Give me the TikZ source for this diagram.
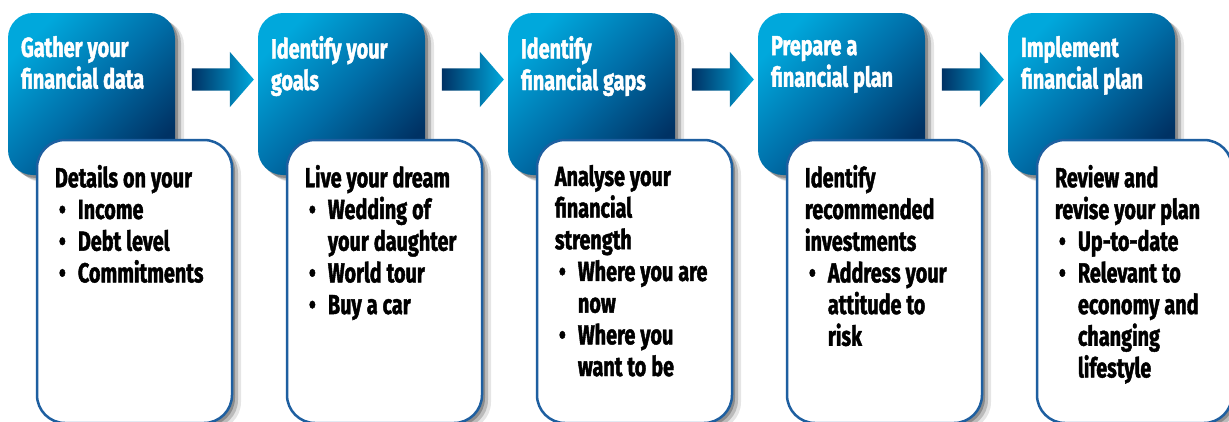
\documentclass[tikz,border=0pt]{standalone}
\usepackage{fontspec}
\setmainfont{Fira Sans}[FakeStretch=0.72, BoldFeatures={FakeBold=1.5}]
\usetikzlibrary{shapes.arrows, shadows}

\definecolor{bluelight}{RGB}{0,168,220}
\definecolor{bluemid}{RGB}{0,110,168}
\definecolor{bluedark}{RGB}{0,50,100}
\definecolor{boxborder}{RGB}{30,95,160}

\newcommand{\itemdot}{\makebox[23pt][l]{\hspace{4pt}\textbullet}}
\newcommand{\itemcont}{\hspace*{23pt}}
\newcommand{\boxfont}{\fontsize{27.5}{31.7}\selectfont\bfseries}

\begin{document}
\begin{tikzpicture}
	[%
	x=1pt, y=-1pt,
	softshadow/.style={drop shadow={shadow xshift=3pt, shadow yshift=-3pt, opacity=.25, fill=black},
		drop shadow={shadow xshift=6pt, shadow yshift=-5pt, opacity=.18, fill=black},
		drop shadow={shadow xshift=9pt, shadow yshift=-7pt, opacity=.10, fill=black}},%
	phase/.style     ={rectangle,	rounded corners=25pt,	minimum width=167pt,	minimum height=162pt,	inner sep=0pt,
		top color=bluelight,	bottom color=bluedark,	middle color=bluemid,	shading angle=45,	softshadow},%
	detail/.style    ={rectangle,	rounded corners=28pt,	minimum width=195pt,	minimum height=283pt,	inner sep=0pt,
		draw=boxborder,	line width=2.5pt,	fill=white,	softshadow},%
	flow/.style      ={single arrow,	single arrow head extend=16.5pt,	single arrow tip angle=98,
		minimum height=62pt,	minimum width=55pt,	inner xsep=0pt,	inner ysep=11pt,
		left color=bluedark,	right color=bluelight},%
	boxtext/.style   ={anchor=north west,	inner sep=0pt,	align=left,	font=\boxfont,
		execute at begin node={\spaceskip=5pt plus 1pt minus 1pt\relax}},%
	phasetext/.style ={boxtext,	text width=150pt,	text=white},%
	detailtext/.style={boxtext,	text width=175pt,	text=black},%
	]

	\useasboundingbox (0,0) rectangle (1229,421);
	\clip (0,0) rectangle (1229,421);
	\fill [white] (0,0) rectangle (1229,421);

	% nodes
	\foreach \i in {0,...,4} \node (phase\i) at ({91.5+250*\i},94) [phase] {};
	\foreach \i in {0,...,3} \node (arrow\i) at ({218+250*\i},79.5) [flow] {};
	\foreach \i in {0,...,4} \node (detail\i) at ({134.5+250*\i},281.5) [detail] {};

	% step titles
	\node (phasetext0) at ([shift={(13,23)}]phase0.north west) [phasetext] {Gather your\\financial data};
	\node (phasetext1) at ([shift={(13,23)}]phase1.north west) [phasetext] {Identify your\\goals};
	\node (phasetext2) at ([shift={(13,23)}]phase2.north west) [phasetext] {Identify\\financial gaps};
	\node (phasetext3) at ([shift={(13,23)}]phase3.north west) [phasetext] {Prepare a\\financial plan};
	\node (phasetext4) at ([shift={(13,23)}]phase4.north west) [phasetext] {Implement\\financial plan};

	% details
	\node (detailtext0) at ([shift={(19,26)}]detail0.north west) [detailtext]
		{Details on your\\\itemdot Income\\\itemdot Debt level\\\itemdot Commitments};
	\node (detailtext1) at ([shift={(19,26)}]detail1.north west) [detailtext]
		{Live your dream\\\itemdot Wedding of\\\itemcont your daughter\\\itemdot World tour\\\itemdot Buy a car};
	\node (detailtext2) at ([shift={(19,26)}]detail2.north west) [detailtext]
		{Analyse your\\financial\\strength\\\itemdot Where you are\\\itemcont now\\\itemdot Where you\\\itemcont want to be};
	\node (detailtext3) at ([shift={(19,26)}]detail3.north west) [detailtext]
		{Identify\\recommended\\investments\\\itemdot Address your\\\itemcont attitude to\\\itemcont risk};
	\node (detailtext4) at ([shift={(19,26)}]detail4.north west) [detailtext]
		{Review and\\revise your plan\\\itemdot Up-to-date\\\itemdot Relevant to\\\itemcont economy and\\\itemcont changing\\\itemcont lifestyle};

\end{tikzpicture}
\end{document}
